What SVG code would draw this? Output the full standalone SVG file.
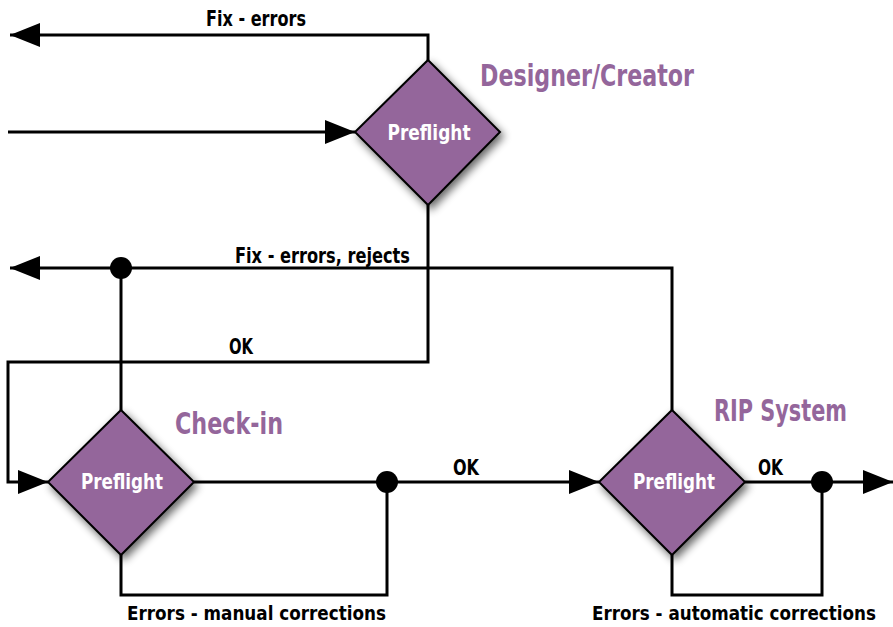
<svg xmlns="http://www.w3.org/2000/svg" width="893" height="627" viewBox="0 0 893 627">
<style>
.ln{fill:none;stroke:#000;stroke-width:3;stroke-linejoin:miter}
.arr{marker-end:url(#ah)}
.dia{fill:#94669b;stroke:#000;stroke-width:2;filter:url(#sh)}
.t{font-family:"Liberation Sans Narrow","DejaVu Sans Condensed","Liberation Sans",sans-serif;font-weight:bold}
.lbl{font-size:22px;fill:#000}
.bot{font-size:19px}
.pf{font-size:22px;fill:#fff;text-anchor:middle}
.ttl{font-size:31px;fill:#94669b}
.dot{fill:#000}
</style>
<defs>
<marker id="ah" markerUnits="userSpaceOnUse" markerWidth="30" markerHeight="24" refX="30" refY="12" orient="auto" overflow="visible">
<path d="M0,0 L30,12 L0,24 z" fill="#000"/>
</marker>
<filter id="sh" x="-30%" y="-30%" width="160%" height="160%">
<feGaussianBlur in="SourceAlpha" stdDeviation="4"/>
<feOffset dx="3" dy="4" result="b"/>
<feComponentTransfer><feFuncA type="linear" slope="0.6"/></feComponentTransfer>
<feMerge><feMergeNode/><feMergeNode in="SourceGraphic"/></feMerge>
</filter>
</defs>
<rect width="893" height="627" fill="#fff"/>
<g id="connectors">
<path class="ln arr" d="M428,60 V35 H10"/>
<path class="ln arr" d="M8,132 H355"/>
<path class="ln arr" d="M428,205 V362 H8 V482 H48"/>
<path class="ln arr" d="M672,410 V268 H10"/>
<path class="ln" d="M121,268 V410"/>
<path class="ln arr" d="M194,482 H599"/>
<path class="ln" d="M121,555 V595 H387 V482"/>
<path class="ln arr" d="M745,482 H893"/>
<path class="ln" d="M672,555 V595 H822 V482"/>
<circle class="dot" cx="121" cy="268" r="11"/>
<circle class="dot" cx="387" cy="482" r="11"/>
<circle class="dot" cx="822" cy="482" r="11"/>
<text class="t lbl" x="206" y="26" textLength="100" lengthAdjust="spacingAndGlyphs">Fix - errors</text>
<text class="t lbl" x="235" y="263" textLength="175" lengthAdjust="spacingAndGlyphs">Fix - errors, rejects</text>
<text class="t lbl" x="229" y="354" textLength="24" lengthAdjust="spacingAndGlyphs">OK</text>
<text class="t lbl" x="453" y="475" textLength="26" lengthAdjust="spacingAndGlyphs">OK</text>
<text class="t lbl" x="758" y="475" textLength="25" lengthAdjust="spacingAndGlyphs">OK</text>
<text class="t lbl bot" x="127" y="620" textLength="259" lengthAdjust="spacingAndGlyphs">Errors - manual corrections</text>
<text class="t lbl bot" x="592" y="620" textLength="284" lengthAdjust="spacingAndGlyphs">Errors - automatic corrections</text>
</g>
<g id="designer">
<path class="dia" d="M428,60 L500,132 L428,205 L355,132 Z"/>
<text class="t pf" x="429" y="140" textLength="83" lengthAdjust="spacingAndGlyphs">Preflight</text>
<text class="t ttl" x="480" y="86" textLength="214" lengthAdjust="spacingAndGlyphs">Designer/Creator</text>
</g>
<g id="checkin">
<path class="dia" d="M121,410 L194,482 L121,555 L48,482 Z"/>
<text class="t pf" x="122" y="489" textLength="82" lengthAdjust="spacingAndGlyphs">Preflight</text>
<text class="t ttl" x="175" y="434" textLength="108" lengthAdjust="spacingAndGlyphs">Check-in</text>
</g>
<g id="rip">
<path class="dia" d="M672,410 L745,482 L672,555 L599,482 Z"/>
<text class="t pf" x="674" y="489" textLength="82" lengthAdjust="spacingAndGlyphs">Preflight</text>
<text class="t ttl" x="714" y="421" textLength="133" lengthAdjust="spacingAndGlyphs">RIP System</text>
</g>
</svg>
